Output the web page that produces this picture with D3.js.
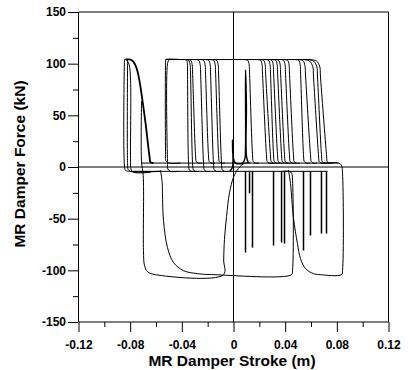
<!DOCTYPE html>
<html>
<head>
<meta charset="utf-8">
<script src="https://cdn.jsdelivr.net/npm/d3@7"></script>
<style>
  body { margin: 0; background: #fff; }
  svg text { font-family: "Liberation Sans", Arial, sans-serif; font-weight: bold; fill: #000; }
</style>
</head>
<body>
<svg id="chart" width="408" height="370"></svg>
<script>
// axis ticks
var xTicks = [-0.12, -0.08, -0.04, 0, 0.04, 0.08, 0.12]
var xTickLabels = ["-0.12", "-0.08", "-0.04", "0", "0.04", "0.08", "0.12"]
var xMinorTicks = [-0.10, -0.06, -0.02, 0.02, 0.06, 0.10]
var yTicks = [-150, -100, -50, 0, 50, 100, 150]
var yTickLabels = ["-150", "-100", "-50", "0", "50", "100", "150"]
var yMinorTicks = [-125, -75, -25, 25, 75, 125]

// [stroke (m), force (kN)]
var leftReversals = [
    [[-0.0565,-4.2],[-0.0813,-4.2],[-0.0836,-3.2],[-0.0844,1],[-0.0844,103],[-0.0843,104],[-0.0797,104]],
    [[-0.0565,-4.2],[-0.0797,-4.2],[-0.0816,-2.2],[-0.0820,3],[-0.0820,104]],
    [[-0.0642,-5.1],[-0.0774,-5.1],[-0.0793,-2.2],[-0.0797,8],[-0.0797,84],[-0.0808,99],[-0.0828,104]]
]
var leftDecay = [[-0.0836,104],[-0.0797,104],[-0.0774,101.7],[-0.0751,95.8],[-0.0735,88],[-0.0720,77.4],[-0.0681,42.4],[-0.0650,10],[-0.0642,4.6],[-0.0619,3.8]]

var mainRises = [
    [[-0.0410,3.8],[-0.0503,3.8],[-0.0524,6],[-0.0526,12],[-0.0526,103],[-0.0525,104],[-0.0410,104]],
    [[-0.0426,-4.2],[-0.0490,-4.2],[-0.0508,-2],[-0.0511,5],[-0.0511,100],[-0.0500,104]]
]
var upperPlateau = [[-0.0526,104],[0.0600,104]]

var dropsLeft = [
    [[-0.0406,104],[-0.0364,103.5],[-0.0357,100],[-0.0356,92],[-0.0348,4],[-0.0342,-2.7],[-0.0328,-4.2],[-0.0298,-4.2]],
    [[-0.0383,104],[-0.0348,103.3],[-0.0336,99],[-0.0333,92],[-0.0317,4],[-0.0311,-2.7],[-0.0297,-4.2],[-0.0267,-4.2]],
    [[-0.0367,104],[-0.0332,103.3],[-0.0320,99],[-0.0317,92],[-0.0294,12],[-0.0288,5.3],[-0.0274,3.8],[-0.0244,3.8]],
    [[-0.0305,104],[-0.0270,103.3],[-0.0258,99],[-0.0255,92],[-0.0232,4],[-0.0226,-2.7],[-0.0212,-4.2],[-0.0182,-4.2]],
    [[-0.0267,104],[-0.0232,103.3],[-0.0220,99],[-0.0217,92],[-0.0194,12],[-0.0188,5.3],[-0.0174,3.8],[-0.0144,3.8]],
    [[-0.0228,104],[-0.0193,103.3],[-0.0181,99],[-0.0178,92],[-0.0155,4],[-0.0149,-2.7],[-0.0135,-4.2],[-0.0105,-4.2]],
    [[-0.0189,104],[-0.0154,103.3],[-0.0142,99],[-0.0139,92],[-0.0116,12],[-0.0110,5.3],[-0.0096,3.8],[-0.0066,3.8]],
    [[-0.0166,104],[-0.0131,103.3],[-0.0119,99],[-0.0116,92],[-0.0093,4],[-0.0087,-2.7],[-0.0073,-4.2],[-0.0043,-4.2]]
]

var dropsRight = [
    [[0.0074,104],[0.0109,103.3],[0.0121,99],[0.0124,92],[0.0147,12],[0.0153,5.3],[0.0167,3.8],[0.0197,3.8]],
    [[0.0174,104],[0.0209,103.3],[0.0221,99],[0.0224,92],[0.0255,12],[0.0261,5.3],[0.0275,3.8],[0.0305,3.8]],
    [[0.0198,104],[0.0233,103.3],[0.0245,99],[0.0248,92],[0.0286,12],[0.0292,5.3],[0.0306,3.8],[0.0336,3.8]],
    [[0.0236,104],[0.0271,103.3],[0.0283,99],[0.0286,92],[0.0310,12],[0.0316,5.3],[0.0330,3.8],[0.0360,3.8]],
    [[0.0260,104],[0.0295,103.3],[0.0307,99],[0.0310,92],[0.0341,12],[0.0347,5.3],[0.0361,3.8],[0.0391,3.8]],
    [[0.0291,104],[0.0326,103.3],[0.0338,99],[0.0341,92],[0.0372,12],[0.0378,5.3],[0.0392,3.8],[0.0422,3.8]],
    [[0.0314,104],[0.0349,103.3],[0.0361,99],[0.0364,92],[0.0395,12],[0.0401,5.3],[0.0415,3.8],[0.0445,3.8]],
    [[0.0352,104],[0.0387,103.3],[0.0399,99],[0.0402,92],[0.0433,12],[0.0439,5.3],[0.0453,3.8],[0.0483,3.8]],
    [[0.0383,104],[0.0418,103.3],[0.0430,99],[0.0433,92],[0.0464,12],[0.0470,5.3],[0.0484,3.8],[0.0514,3.8]],
    [[0.0469,104],[0.0504,103.3],[0.0516,99],[0.0519,92],[0.0542,12],[0.0548,5.3],[0.0562,3.8],[0.0592,3.8]],
    [[0.0497,104],[0.0537,103],[0.0553,98],[0.0557,90],[0.0596,12],[0.0602,5.3],[0.0616,3.8],[0.0646,3.8]],
    [[0.0540,104],[0.0589,102.5],[0.0614,97],[0.0619,88],[0.0658,12],[0.0664,5.3],[0.0678,3.8],[0.0708,3.8]],
    [[0.0570,104],[0.0620,102.5],[0.0645,97],[0.0650,88],[0.0681,12],[0.0687,5.3],[0.0701,3.8],[0.0731,3.8]],
    [[0.0590,104],[0.0643,102.5],[0.0668,97],[0.0673,88],[0.0720,12],[0.0726,5.3],[0.0740,3.8],[0.0770,3.8]]
]

var passiveUpper = [[-0.0712,3.8],[0.0813,3.8]]
var passiveLower = [[-0.0797,-4.2],[0.0728,-4.2]]

var loopLowerA = [[-0.0712,63.8],[-0.0712,5],[-0.0699,-8],[-0.0697,-80.9],[-0.0689,-95.4],[-0.0666,-101.3],[-0.0604,-104.2],[-0.0077,-104.2],[-0.0076,-90],[-0.0070,-70],[-0.0054,-48],[-0.0031,-25],[0.0000,-10],[0.0039,-1.3],[0.0085,3.6],[0.0130,3.8]]
var loopLowerB = [[-0.0565,-3.2],[-0.0552,-15],[-0.0550,-25.5],[-0.0542,-51.7],[-0.0511,-78],[-0.0464,-92.5],[-0.0387,-100.3],[-0.0279,-103.2],[-0.0150,-104.2],[0.0449,-104.2],[0.0457,-100],[0.0457,-12.9],[0.0450,-6],[0.0433,-4.2],[0.0380,-4.2]]
var loopLowerC = [[0.0426,-3.2],[0.0441,-15.8],[0.0464,-48.8],[0.0495,-74.1],[0.0519,-88.7],[0.0557,-98.3],[0.0619,-103.2],[0.0673,-104.2],[0.0836,-104.2],[0.0844,-100],[0.0844,-6],[0.0836,1.7],[0.0813,3.8],[0.0700,3.8]]
var centerLoop = [[-0.0031,-4.2],[-0.0010,-1],[-0.0008,25.9],[-0.0003,10],[0.0015,3.8],[0.0070,3.8],[0.0088,8],[0.0093,20],[0.0093,94],[0.0100,60],[0.0101,10],[0.0116,3.8]]

// short force spikes below the passive level
var spikeX = [0.0093, 0.0124, 0.0147, 0.0310, 0.0372, 0.0395, 0.0542, 0.0596, 0.0681, 0.0720]
var spikeLow = [-82.8, -25.5, -78, -76, -73.1, -74.1, -80.9, -66.3, -64.4, -64.4]

var svg = d3.select("#chart")
var dims = { left: 78.5, right: 388.5, top: 12, bottom: 322 }

var xScale = d3.scaleLinear().domain([-0.12, 0.12]).range([dims.left, dims.right])
var yScale = d3.scaleLinear().domain([-150, 150]).range([dims.bottom, dims.top])

//minor ticks first, then major with labels
svg.append("g")
   .attr("transform", `translate(0,${dims.bottom})`)
   .call(d3.axisBottom(xScale).tickValues(xMinorTicks).tickSize(5).tickFormat(""))
svg.append("g")
   .attr("transform", `translate(0,${dims.bottom})`)
   .call(d3.axisBottom(xScale).tickValues(xTicks).tickSize(10).tickPadding(8)
         .tickFormat((d, i) => xTickLabels[i]))
svg.append("g")
   .attr("transform", `translate(${dims.left - 0.5},0)`)
   .call(d3.axisLeft(yScale).tickValues(yMinorTicks).tickSize(5).tickFormat(""))
svg.append("g")
   .attr("transform", `translate(${dims.left - 0.5},0)`)
   .call(d3.axisLeft(yScale).tickValues(yTicks).tickSize(10).tickPadding(2)
         .tickFormat((d, i) => yTickLabels[i]))
svg.selectAll(".domain").remove()
svg.selectAll(".tick text").attr("font-size", 12)
svg.selectAll(".tick line").attr("stroke", "#000")

//frame and crosshair
var frame = svg.append("g").attr("stroke", "#000").attr("stroke-width", 1).attr("fill", "none")
frame.append("line").attr("x1", dims.left).attr("x2", dims.right).attr("y1", dims.top).attr("y2", dims.top)
frame.append("line").attr("x1", dims.left).attr("x2", dims.right).attr("y1", dims.bottom).attr("y2", dims.bottom)
frame.append("line").attr("x1", dims.left).attr("x2", dims.left).attr("y1", dims.top).attr("y2", dims.bottom)
frame.append("line").attr("x1", dims.right).attr("x2", dims.right).attr("y1", dims.top).attr("y2", dims.bottom)
frame.append("line").attr("x1", xScale(0)).attr("x2", xScale(0)).attr("y1", dims.top).attr("y2", dims.bottom)
frame.append("line").attr("x1", dims.left).attr("x2", dims.right).attr("y1", yScale(0)).attr("y2", yScale(0))

var line = d3.line()
    .x(d => xScale(d[0]))
    .y(d => yScale(d[1]))
    .curve(d3.curveCatmullRom.alpha(0.5))

var thinPaths = [].concat(leftReversals, mainRises, [upperPlateau], dropsLeft, dropsRight,
                          [passiveUpper, passiveLower, loopLowerA, loopLowerB, loopLowerC])

var curves = svg.append("g").attr("fill", "none").attr("stroke", "#000")
curves.selectAll("path.thin")
    .data(thinPaths)
    .enter()
    .append("path")
    .attr("class", "thin")
    .attr("d", line)
    .attr("stroke-width", 1)

curves.append("path").attr("d", line(leftDecay)).attr("stroke-width", 1.8)
curves.append("path").attr("d", line(centerLoop)).attr("stroke-width", 1.4)

curves.selectAll("line.spike")
    .data(spikeX)
    .enter()
    .append("line")
    .attr("class", "spike")
    .attr("x1", d => xScale(d))
    .attr("x2", d => xScale(d))
    .attr("y1", yScale(-4.2))
    .attr("y2", (d, i) => yScale(spikeLow[i]))
    .attr("stroke-width", 1.5)

//axis titles
svg.append("text")
   .attr("text-anchor", "middle")
   .attr("font-size", 15.5)
   .attr("x", 232)
   .attr("y", 366)
   .text("MR Damper Stroke (m)")

svg.append("text")
   .attr("text-anchor", "middle")
   .attr("font-size", 15.5)
   .attr("transform", "translate(25,164) rotate(-90)")
   .text("MR Damper Force (kN)")
</script>
</body>
</html>
